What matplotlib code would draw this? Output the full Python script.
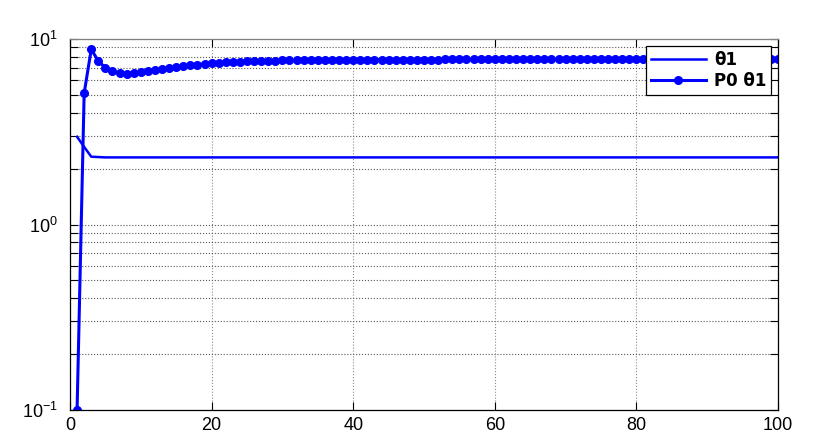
import numpy as np
import matplotlib
matplotlib.use('Agg')
import matplotlib.pyplot as plt

plt.rcParams['font.family'] = ['Liberation Sans', 'DejaVu Sans']

# iteration index
k = np.arange(1, 101)

# theta1 (plain line)
theta1 = [2.97, 2.62, 2.32, 2.31, 2.30, 2.30, 2.30, 2.30, 2.30, 2.30,
          2.30, 2.30, 2.30, 2.30, 2.30, 2.30, 2.30, 2.30, 2.30, 2.30,
          2.30, 2.30, 2.30, 2.30, 2.30, 2.30, 2.30, 2.30, 2.30, 2.30,
          2.30, 2.30, 2.30, 2.30, 2.30, 2.30, 2.30, 2.30, 2.30, 2.30,
          2.30, 2.30, 2.30, 2.30, 2.30, 2.30, 2.30, 2.30, 2.30, 2.30,
          2.30, 2.30, 2.30, 2.30, 2.30, 2.30, 2.30, 2.30, 2.30, 2.30,
          2.30, 2.30, 2.30, 2.30, 2.30, 2.30, 2.30, 2.30, 2.30, 2.30,
          2.30, 2.30, 2.30, 2.30, 2.30, 2.30, 2.30, 2.30, 2.30, 2.30,
          2.30, 2.30, 2.30, 2.30, 2.30, 2.30, 2.30, 2.30, 2.30, 2.30,
          2.30, 2.30, 2.30, 2.30, 2.30, 2.30, 2.30, 2.30, 2.30, 2.30]

# P0 theta1 (line with markers)
p0_theta1 = [0.10, 5.10, 8.80, 7.60, 7.00, 6.70, 6.55, 6.50, 6.55, 6.63,
             6.72, 6.80, 6.88, 6.96, 7.04, 7.12, 7.20, 7.28, 7.35, 7.42,
             7.46, 7.50, 7.53, 7.56, 7.58, 7.60, 7.62, 7.64, 7.65, 7.66,
             7.67, 7.68, 7.69, 7.70, 7.70, 7.71, 7.71, 7.72, 7.72, 7.72,
             7.73, 7.73, 7.73, 7.74, 7.74, 7.74, 7.74, 7.75, 7.75, 7.75,
             7.75, 7.75, 7.76, 7.76, 7.76, 7.76, 7.76, 7.76, 7.76, 7.77,
             7.77, 7.77, 7.77, 7.77, 7.77, 7.77, 7.77, 7.77, 7.77, 7.77,
             7.77, 7.77, 7.78, 7.78, 7.78, 7.78, 7.78, 7.78, 7.78, 7.78,
             7.78, 7.78, 7.78, 7.78, 7.78, 7.78, 7.78, 7.78, 7.78, 7.78,
             7.78, 7.78, 7.78, 7.78, 7.78, 7.78, 7.78, 7.78, 7.78, 7.78]

xticks = [0, 20, 40, 60, 80, 100]

fig = plt.figure(figsize=(8.31, 4.43), dpi=100)
ax = fig.add_axes([70 / 831, 33 / 443, 708 / 831, 371 / 443])

ax.plot(k, theta1, color='#0000ff', lw=1.8, label='θ1')
ax.plot(k, p0_theta1, color='#0000ff', lw=2.2, marker='o', ms=5.5,
        label='P0 θ1')

ax.set_yscale('log')
ax.set_xlim(0, 100)
ax.set_ylim(0.1, 10)
ax.set_xticks(xticks)

ax.grid(True, which='major', axis='x', ls=':', color='0.55', lw=0.8)
ax.grid(True, which='both', axis='y', ls=':', color='0.35', lw=0.8)
ax.tick_params(which='both', direction='in', top=True, right=True,
               labelsize=13, length=6, width=0.8)
ax.tick_params(axis='y', pad=9)
ax.tick_params(axis='x', pad=5)
for s in ax.spines.values():
    s.set_linewidth(0.9)
ax.spines['top'].set_color('0.5')

leg = ax.legend(loc='upper right', fancybox=False, framealpha=1,
                edgecolor='black', handlelength=3.3, borderaxespad=0.4,
                prop={'family': 'DejaVu Sans', 'weight': 'bold', 'size': 12},
                borderpad=0.3, labelspacing=0.2, handletextpad=0.5)
leg.get_frame().set_linewidth(0.9)

fig.savefig('out.png', dpi=100)
